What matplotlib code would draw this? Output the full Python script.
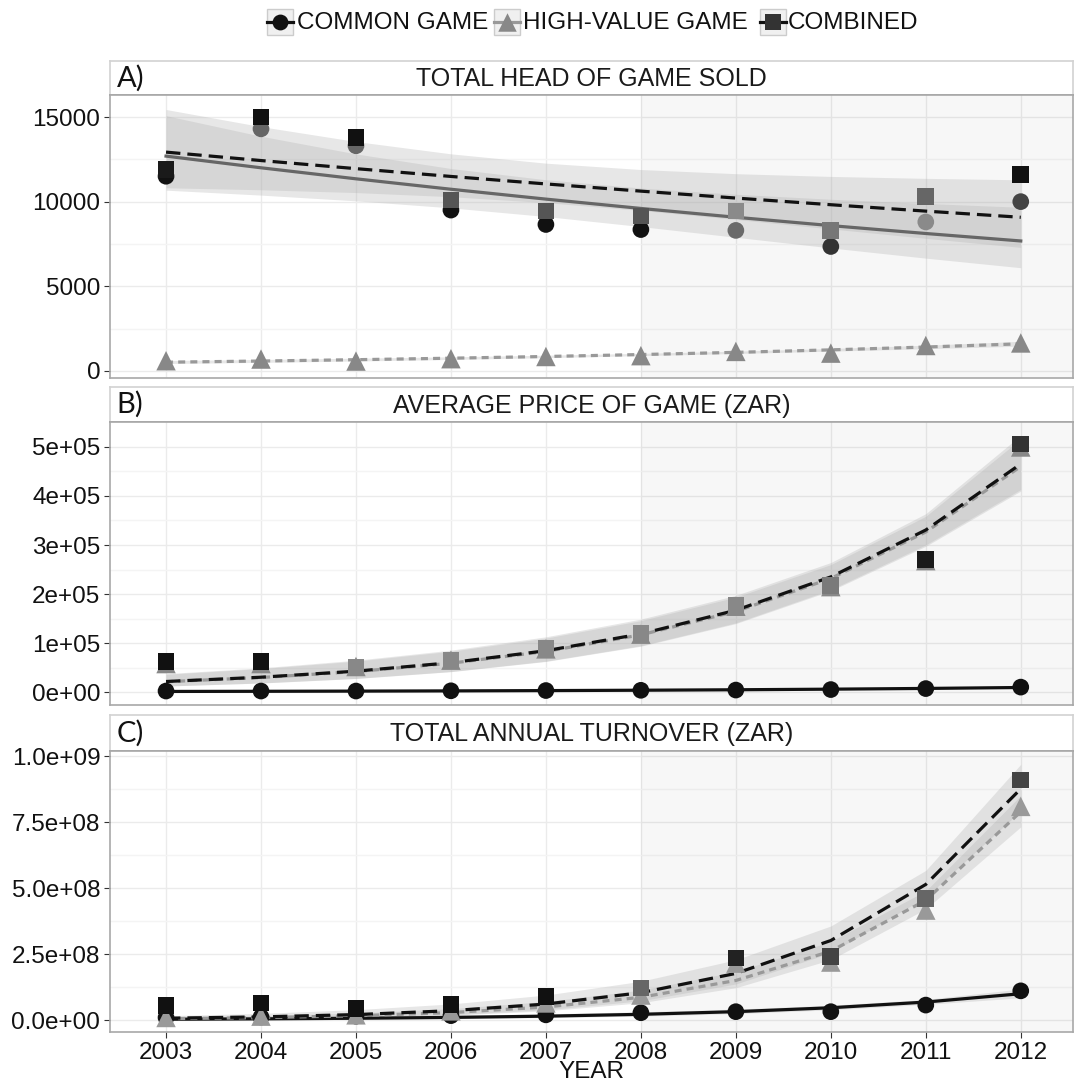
import numpy as np
import matplotlib
matplotlib.use("Agg")
import matplotlib.pyplot as plt
from matplotlib.patches import Rectangle

plt.rcParams['font.family'] = ['Liberation Sans', 'DejaVu Sans']

years = np.arange(2003, 2013)
series = ['COMMON GAME', 'HIGH-VALUE GAME', 'COMBINED']
panel_titles = ['TOTAL HEAD OF GAME SOLD', 'AVERAGE PRICE OF GAME (ZAR)', 'TOTAL ANNUAL TURNOVER (ZAR)']
panel_letters = ['A)', 'B)', 'C)']

# panel A - head sold
head_common = [11500, 14300, 13300, 9500, 8650, 8350, 8300, 7350, 8800, 10000]
head_high = [600, 700, 580, 720, 850, 900, 1150, 1050, 1500, 1650]
head_comb = [11900, 15000, 13800, 10100, 9450, 9150, 9450, 8300, 10300, 11600]

# panel B - average price
price_common = [2000, 2000, 2000, 2500, 3000, 3500, 4000, 5000, 7000, 10000]
price_high = [58000, 58000, 52000, 65000, 88000, 118000, 175000, 215000, 268000, 500000]
price_comb = [62000, 62000, 51000, 65000, 89000, 120000, 177000, 218000, 271000, 506000]

# panel C - turnover
turn_common = [1.0e7, 1.2e7, 1.5e7, 1.7e7, 2.0e7, 2.8e7, 3.2e7, 3.2e7, 5.7e7, 1.11e8]
turn_high = [1.0e7, 1.5e7, 2.0e7, 3.5e7, 6.5e7, 9.5e7, 2.16e8, 2.2e8, 4.17e8, 8.1e8]
turn_comb = [5.5e7, 6.5e7, 4.5e7, 6.0e7, 9.0e7, 1.22e8, 2.35e8, 2.4e8, 4.62e8, 9.1e8]

yticks = [[0, 5000, 10000, 15000],
          [0, 1e5, 2e5, 3e5, 4e5, 5e5],
          [0, 2.5e8, 5e8, 7.5e8, 1e9]]
yticklabels = [['0', '5000', '10000', '15000'],
               ['0e+00', '1e+05', '2e+05', '3e+05', '4e+05', '5e+05'],
               ['0.0e+00', '2.5e+08', '5.0e+08', '7.5e+08', '1.0e+09']]
ylims = [(-420, 16300), (-26500, 551000), (-4.5e7, 1.02e9)]

data = [[head_common, head_high, head_comb],
        [price_common, price_high, price_comb],
        [turn_common, turn_high, turn_comb]]

# point shades (the original has overlapping dodged points of different grey)
shades = [
    [['#111111', '#666666', '#666666', '#111111', '#111111', '#111111', '#6a6a6a', '#333333', '#8a8a8a', '#444444'],
     ['#888888'] * 10,
     ['#1a1a1a', '#111111', '#111111', '#555555', '#555555', '#555555', '#8a8a8a', '#777777', '#666666', '#111111']],
    [['#111111'] * 10,
     ['#888888'] * 10,
     ['#111111', '#111111', '#888888', '#888888', '#888888', '#888888', '#888888', '#7a7a7a', '#1a1a1a', '#333333']],
    [['#111111'] * 10,
     ['#999999'] * 10,
     ['#111111', '#111111', '#111111', '#111111', '#111111', '#666666', '#222222', '#444444', '#666666', '#444444']],
]
line_cols = [['#666666', '#999999', '#111111'],
             ['#111111', '#999999', '#111111'],
             ['#111111', '#999999', '#111111']]
styles = ['-', (0, (2.2, 1.6)), (0, (4.5, 2.2))]
markers = ['o', '^', 's']
msizes = [12, 14, 12]


def loglink_fit(x, y):
    # gaussian glm with log link, fitted by gauss-newton
    y = np.asarray(y, float)
    X = np.column_stack([np.ones(len(x)), x - x[0]])
    beta = np.polyfit(x - x[0], np.log(y), 1)[::-1]
    for _ in range(100):
        mu = np.exp(X @ beta)
        J = X * mu[:, None]
        step = np.linalg.lstsq(J, y - mu, rcond=None)[0]
        beta = beta + step
        if np.all(np.abs(step) < 1e-10):
            break
    mu = np.exp(X @ beta)
    J = X * mu[:, None]
    s2 = np.sum((y - mu) ** 2) / (len(y) - 2)
    cov = s2 * np.linalg.inv(J.T @ J)
    eta = X @ beta
    se = np.sqrt(np.sum((X @ cov) * X, axis=1))
    return np.exp(eta), np.exp(eta - 1.96 * se), np.exp(eta + 1.96 * se)


W, H = 1074, 1085
fig = plt.figure(figsize=(W / 100, H / 100), dpi=100)


def px_axes(x0, y0, x1, y1):
    return fig.add_axes([x0 / W, 1 - y1 / H, (x1 - x0) / W, (y1 - y0) / H])


panels = [(61, 95, 378), (387, 422, 705), (715, 751, 1032)]
left, right = 110, 1073
for i, (s_top, p_top, p_bot) in enumerate(panels):
    # strip
    sax = px_axes(left, s_top, right, p_top)
    sax.set_xticks([])
    sax.set_yticks([])
    for sp in sax.spines.values():
        sp.set_color('#d2d2d2')
        sp.set_linewidth(1.2)
    sax.spines['bottom'].set_color('#a0a0a0')
    sax.text(0.5, 0.47, panel_titles[i], ha='center', va='center', fontsize=18,
             color='#1a1a1a', transform=sax.transAxes)
    sax.text(0.007, 0.5, panel_letters[i], ha='left', va='center', fontsize=21,
             family=['Lato', 'DejaVu Sans'], color='#111111', transform=sax.transAxes)

    ax = px_axes(left, p_top, right, p_bot)
    ax.set_xlim(2002.41, 2012.55)
    ax.set_ylim(*ylims[i])
    ax.axvspan(2008, 2012.55, color='black', alpha=0.03, lw=0, zorder=1)
    ax.set_yticks(yticks[i])
    ax.set_yticklabels(yticklabels[i])
    mt = np.array(yticks[i])
    ax.set_yticks(mt[:-1] + np.diff(mt) / 2, minor=True)
    ax.set_xticks(years)
    ax.grid(True, which='major', color='#ebebeb', lw=1.0, zorder=0)
    ax.grid(True, which='minor', axis='y', color='#f4f4f4', lw=1.0, zorder=0)
    ax.tick_params(which='minor', length=0)
    ax.tick_params(which='major', length=4, pad=3, color='#333333', labelsize=17.5,
                   labelcolor='#111111')
    if i < 2:
        ax.tick_params(axis='x', labelbottom=False, length=0)
    for sp in ax.spines.values():
        sp.set_color('#a8a8a8')
        sp.set_linewidth(1.2)
    ax.set_axisbelow(True)

    for j in range(3):
        fit, lo, hi = loglink_fit(years, data[i][j])
        ax.fill_between(years, lo, hi, color='#b0b0b0', alpha=0.3, lw=0, zorder=2)
    for j in range(3):
        fit, lo, hi = loglink_fit(years, data[i][j])
        ax.plot(years, fit, color=line_cols[i][j], ls=styles[j], lw=2.3, zorder=3)
    for j in range(3):
        ax.scatter(years, data[i][j], marker=markers[j], s=msizes[j] ** 2,
                   c=shades[i][j], lw=0, zorder=4)
    if i == 2:
        ax.set_xlabel('YEAR', fontsize=17.5, color='#111111', labelpad=-2)

# legend at top
lax = fig.add_axes([0, 1 - 45 / H, 1, 45 / H])
lax.set_xlim(0, W)
lax.set_ylim(45, 0)
lax.axis('off')
key_x = [280, 507, 773]
text_x = [297, 523, 788]
key_col = ['#111111', '#888888', '#333333']
key_line = ['#111111', '#999999', '#111111']
for j in range(3):
    lax.add_patch(Rectangle((key_x[j] - 13, 9), 26, 26, facecolor='#f0f0f0',
                            edgecolor='#cccccc', lw=1))
    lax.plot([key_x[j] - 13, key_x[j] + 13], [22, 22], color=key_line[j], ls='-', lw=2.3)
    lax.scatter([key_x[j]], [22], marker=markers[j], s=(msizes[j] * 0.95) ** 2,
                c=key_col[j], lw=0, zorder=3)
    lax.text(text_x[j], 23, series[j], ha='left', va='center', fontsize=17.5, color='#111111')

fig.savefig('out.png', dpi=100)
